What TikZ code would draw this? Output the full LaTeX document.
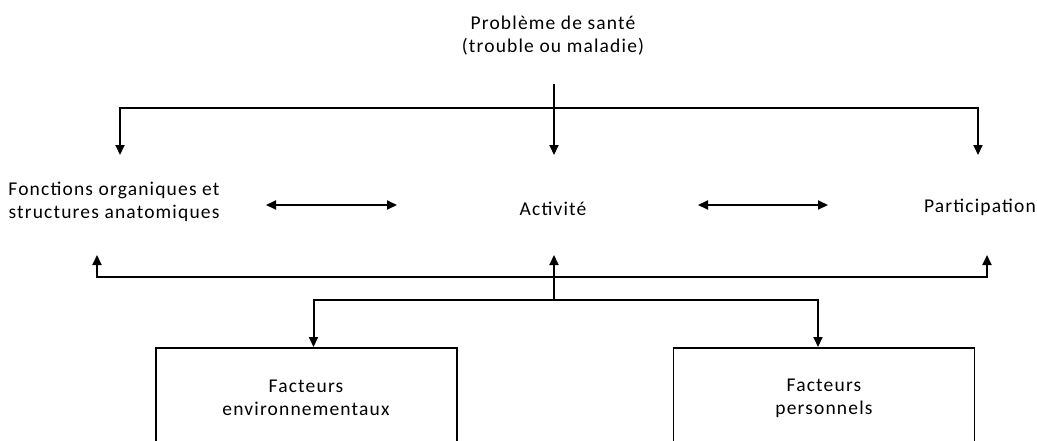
\documentclass[tikz,border=0pt]{standalone}
\usepackage{fontspec}
\setmainfont[LetterSpace=6]{Carlito}
\usetikzlibrary{arrows.meta}
\begin{document}
\begin{tikzpicture}[x=1pt,y=-1pt,
  lbl/.style={font=\fontsize{19.5}{23}\selectfont, align=center, inner sep=0pt},
  conn/.style={line width=2pt},
  tip/.style={-{Triangle[length=10pt,width=9pt]}},
  arr/.style={conn,tip},
  darr/.style={conn,{Triangle[length=10pt,width=9pt]}-{Triangle[length=10pt,width=9pt]}},
  fbox/.style={draw, line width=1.8pt, minimum width=301pt, minimum height=140pt, anchor=north, inner sep=0pt}]
\useasboundingbox (0,0) rectangle (1037,440);
\clip (0,0) rectangle (1037,440);
% texts
\node[lbl] (sante) at (553,36) {Problème de santé\\(trouble ou maladie)};
\node[lbl] (fon) at (114,202) {Fonctions organiques et\\structures anatomiques};
\node[lbl] (act) at (553,209) {Activité};
\node[lbl] (par) at (980,207) {Participation};
\node[fbox] (env) at (306.5,347) {};
\node[fbox] (pers) at (824,347) {};
\node[lbl] (envt) at (306,398) {Facteurs\\environnementaux};
\node[lbl] (perst) at (824,398) {Facteurs\\personnels};
% junction coordinates
\coordinate (ptop) at (554,84);
\coordinate (jt) at (554,108);
\coordinate (fonIn) at (120,155);
\coordinate (actIn) at (554,155);
\coordinate (parIn) at (978,155);
\coordinate (fonOut) at (97,255);
\coordinate (actOut) at (554,255);
\coordinate (parOut) at (987,255);
\coordinate (jb) at (554,277);
\coordinate (jm) at (554,300);
\coordinate (d1a) at (266,205);
\coordinate (d1b) at (397,205);
\coordinate (d2a) at (698,205);
\coordinate (d2b) at (828,205);
% connectors
\draw[conn] (ptop) -- (jt);
\draw[arr] (jt) -- (actIn);
\draw[arr] (jt) -| (fonIn);
\draw[arr] (jt) -| (parIn);
\draw[darr] (d1a) -- (d1b);
\draw[darr] (d2a) -- (d2b);
\draw[arr] (jb) -| (fonOut);
\draw[arr] (jb) -| (parOut);
\draw[arr] (jm) -- (actOut);
\draw[arr] (jm) -| ([xshift=7pt]env.north);
\draw[arr] (jm) -| ([xshift=-6pt]pers.north);
\end{tikzpicture}
\end{document}
